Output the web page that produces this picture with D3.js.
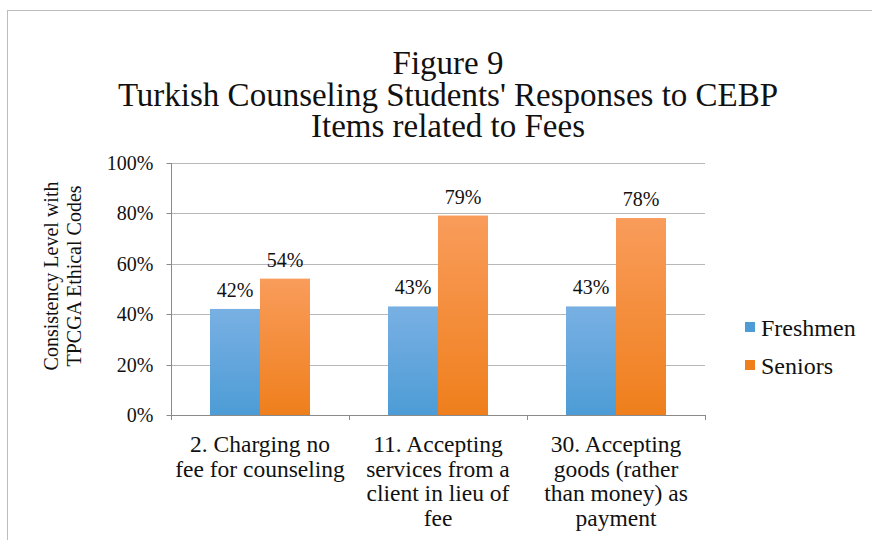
<!DOCTYPE html>
<html>
<head>
<meta charset="utf-8">
<script src="https://cdn.jsdelivr.net/npm/d3@7"></script>
<style>
  body { margin: 0; background: #fff; }
</style>
</head>
<body>
<svg id="chart" width="872" height="540" font-family="Liberation Serif"></svg>
<script>
// data
const categories = [
  ["2. Charging no", "fee for counseling"],
  ["11. Accepting", "services from a", "client in lieu of", "fee"],
  ["30. Accepting", "goods (rather", "than money) as", "payment"]
];
const seriesNames = ["Freshmen", "Seniors"];
const freshmen = [42, 43, 43];
const seniors  = [54, 79, 78];
const yTicks   = [0, 20, 40, 60, 80, 100];

let svg      = d3.select("#chart"),
  serif      = "'Liberation Serif', 'Times New Roman', serif",
  plotLeft   = 171,
  plotRight  = 705,
  plotTop    = 162.5,
  plotBottom = 415,
  barW       = 50,
  colors     = [["#79b0e3", "#4d9cd6"], ["#f99c5b", "#ef7f1c"]];

// outer frame
svg.append("rect")
  .attr("x", 7.5).attr("y", 10.5)
  .attr("width", 900).attr("height", 600)
  .attr("fill", "none").attr("stroke", "#bdbdbd");

// gradients
let defs = svg.append("defs");
colors.forEach((c, i) => {
  let g = defs.append("linearGradient")
    .attr("id", "grad" + i)
    .attr("x1", 0).attr("y1", 0).attr("x2", 0).attr("y2", 1);
  g.append("stop").attr("offset", "0%").attr("stop-color", c[0]);
  g.append("stop").attr("offset", "100%").attr("stop-color", c[1]);
});

// title (tight line spacing, as in the original)
let titleLines = ["Figure 9", "Turkish Counseling Students' Responses to CEBP", "Items related to Fees"];
svg.append("g")
  .selectAll("text")
  .data(titleLines)
  .enter().append("text")
  .attr("x", 448)
  .attr("y", (d, i) => 74 + i * 31.5)
  .attr("text-anchor", "middle")
  .style("font-family", serif)
  .style("font-size", "33px")
  .attr("fill", "#111")
  .text(d => d);

let x = d3.scaleBand().domain(d3.range(categories.length)).range([plotLeft, plotRight]),
  y   = d3.scaleLinear().domain([0, 100]).range([plotBottom, plotTop]);

// gridlines
svg.append("g")
  .selectAll("line")
  .data(yTicks.slice(1))
  .enter().append("line")
  .attr("x1", plotLeft).attr("x2", plotRight)
  .attr("y1", d => Math.round(y(d)) + 0.5)
  .attr("y2", d => Math.round(y(d)) + 0.5)
  .attr("stroke", "#b8b8b8");

// y axis
let yAxis = svg.append("g")
  .attr("transform", "translate(" + (plotLeft + 0.5) + ",0.5)")
  .call(d3.axisLeft(y).tickValues(yTicks).tickSize(5).tickPadding(13).tickFormat(d => d + "%"));
yAxis.attr("font-family", null).attr("font-size", null);
yAxis.select(".domain").attr("stroke", "#8a8a8a").attr("d", "M0," + y(0) + "V" + y(100));
yAxis.selectAll(".tick line").attr("stroke", "#8a8a8a");
yAxis.selectAll(".tick text")
  .style("font-size", "20px")
  .style("font-family", serif)
  .attr("fill", "#111");
yAxis.selectAll(".tick").attr("transform", d => "translate(0," + Math.round(y(d)) + ")");

// x axis baseline + ticks
svg.append("line")
  .attr("x1", plotLeft).attr("x2", plotRight)
  .attr("y1", plotBottom + 0.5).attr("y2", plotBottom + 0.5)
  .attr("stroke", "#8a8a8a");
svg.append("g")
  .selectAll("line")
  .data(d3.range(categories.length + 1))
  .enter().append("line")
  .attr("x1", d => Math.round(plotLeft + d * x.bandwidth()) + 0.5)
  .attr("x2", d => Math.round(plotLeft + d * x.bandwidth()) + 0.5)
  .attr("y1", plotBottom).attr("y2", plotBottom + 5)
  .attr("stroke", "#8a8a8a");

// bars
[freshmen, seniors].forEach((vals, s) => {
  let g = svg.append("g");
  g.selectAll("rect")
    .data(vals)
    .enter().append("rect")
    .attr("x", (d, i) => x(i) + x.bandwidth() / 2 - barW + s * barW)
    .attr("y", d => y(d))
    .attr("width", barW)
    .attr("height", d => plotBottom - y(d))
    .attr("fill", "url(#grad" + s + ")");

  g.selectAll("text")
    .data(vals)
    .enter().append("text")
    .attr("x", (d, i) => x(i) + x.bandwidth() / 2 - barW / 2 + s * barW)
    .attr("y", d => y(d) - 12)
    .attr("text-anchor", "middle")
    .style("font-family", serif)
    .style("font-size", "20px")
    .attr("fill", "#111")
    .text(d => d + "%");
});

// category labels
categories.forEach((lines, i) => {
  svg.append("g")
    .selectAll("text")
    .data(lines)
    .enter().append("text")
    .attr("x", x(i) + x.bandwidth() / 2)
    .attr("y", (t, j) => 452 + j * 24.5)
    .attr("text-anchor", "middle")
    .style("font-family", serif)
    .style("font-size", "23.5px")
    .attr("fill", "#111")
    .text(t => t);
});

// y title
svg.append("g")
  .attr("transform", "translate(58,276) rotate(-90)")
  .selectAll("text")
  .data(["Consistency Level with", "TPCGA Ethical Codes"])
  .enter().append("text")
  .attr("x", 0)
  .attr("y", (d, i) => i * 23)
  .attr("text-anchor", "middle")
  .style("font-family", serif)
  .style("font-size", "20px")
  .attr("fill", "#111")
  .text(d => d);

// legend
let legend = svg.append("g")
  .selectAll("g")
  .data(seriesNames)
  .enter().append("g")
  .attr("transform", (d, i) => "translate(745," + (322 + i * 38) + ")");
legend.append("rect")
  .attr("width", 10).attr("height", 10)
  .attr("fill", (d, i) => colors[i][1]);
legend.append("text")
  .attr("x", 16).attr("y", 14)
  .style("font-family", serif)
  .style("font-size", "24px")
  .attr("fill", "#111")
  .text(d => d);
</script>
</body>
</html>
